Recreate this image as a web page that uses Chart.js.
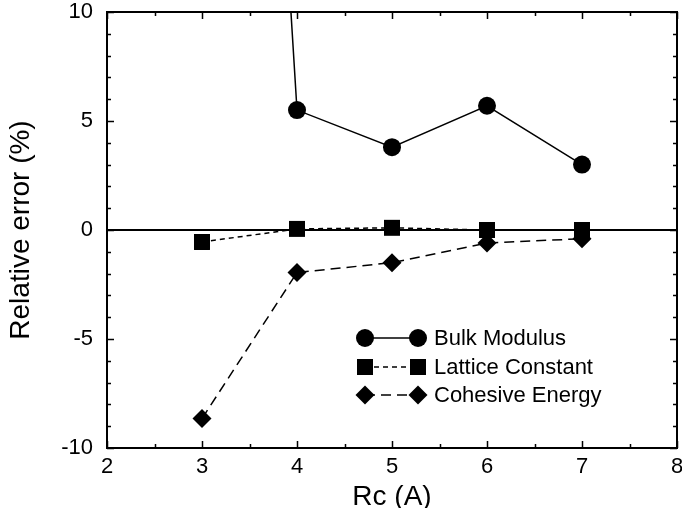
<!DOCTYPE html>
<html>
<head>
<meta charset="utf-8">
<script src="https://cdn.jsdelivr.net/npm/chart.js@4/dist/chart.umd.min.js"></script>
<style>
  html, body { margin: 0; padding: 0; background: #fff; }
  #wrap { width: 682px; height: 508px; }
</style>
</head>
<body>
<div id="wrap"><canvas id="myChart" width="682" height="508"></canvas></div>
<script>
const rc = [3, 4, 5, 6, 7];
const bulkModulus = [76, 5.5, 3.8, 5.7, 3.0];
const latticeConstant = [-0.55, 0.05, 0.1, 0.0, 0.0];
const cohesiveEnergy = [-8.65, -1.95, -1.5, -0.6, -0.4];
const seriesNames = ['Bulk Modulus', 'Lattice Constant', 'Cohesive Energy'];

const FONT = '"Liberation Sans", Arial, sans-serif';

const toXY = (ys) => rc.map((x, i) => ({ x, y: ys[i] }));

// the last x label ("8") is allowed to run off the canvas edge, like the original
const noLabelPadding = (scale) => {
    scale._calculatePadding = function () {
        this.paddingLeft = 0;
        this.paddingRight = 0;
        this.paddingTop = 0;
        this.paddingBottom = 0;
    };
};

// inward ticks on all four sides, plot frame, zero line
const frame = {
    id: 'frame',
    beforeDatasetsDraw(chart) {
        const { ctx, chartArea: a, scales: { y } } = chart;
        ctx.save();
        ctx.strokeStyle = '#000';
        ctx.lineWidth = 2;
        ctx.beginPath();
        ctx.moveTo(a.left, y.getPixelForValue(0));
        ctx.lineTo(a.right, y.getPixelForValue(0));
        ctx.stroke();
        ctx.restore();
    },
    afterDatasetsDraw(chart) {
        const { ctx, chartArea: a, scales: { x, y } } = chart;
        ctx.save();
        ctx.strokeStyle = '#000';
        ctx.lineWidth = 2;
        ctx.strokeRect(a.left, a.top, a.right - a.left, a.bottom - a.top);
        ctx.lineWidth = 1.5;
        ctx.beginPath();
        for (let v = 2; v <= 8.001; v += 0.5) {
            const px = Math.round(x.getPixelForValue(v)) + 0.5;
            const len = Number.isInteger(v) ? 7 : 4;
            ctx.moveTo(px, a.bottom); ctx.lineTo(px, a.bottom - len);
            ctx.moveTo(px, a.top); ctx.lineTo(px, a.top + len);
        }
        for (let v = -10; v <= 10; v += 1) {
            const py = Math.round(y.getPixelForValue(v)) + 0.5;
            const len = v % 5 === 0 ? 7 : 4;
            ctx.moveTo(a.left, py); ctx.lineTo(a.left + len, py);
            ctx.moveTo(a.right, py); ctx.lineTo(a.right - len, py);
        }
        ctx.stroke();
        ctx.restore();
    }
};

const drawMarker = (ctx, style, cx, cy, r) => {
    ctx.beginPath();
    if (style === 'circle') {
        ctx.arc(cx, cy, r, 0, Math.PI * 2);
    } else if (style === 'rect') {
        const s = r * Math.SQRT1_2;
        ctx.rect(cx - s, cy - s, 2 * s, 2 * s);
    } else {
        ctx.moveTo(cx, cy - r); ctx.lineTo(cx + r, cy);
        ctx.lineTo(cx, cy + r); ctx.lineTo(cx - r, cy);
        ctx.closePath();
    }
    ctx.fill();
};

// legend with a marker on both ends of the line sample
const sampleLegend = {
    id: 'sampleLegend',
    afterDraw(chart) {
        const { ctx } = chart;
        const rows = [338, 367, 395];
        ctx.save();
        chart.data.datasets.forEach((ds, i) => {
            const yy = rows[i];
            ctx.strokeStyle = '#000';
            ctx.fillStyle = '#000';
            ctx.lineWidth = ds.borderWidth;
            ctx.setLineDash(ds.borderDash || []);
            ctx.beginPath();
            ctx.moveTo(365, yy); ctx.lineTo(418, yy);
            ctx.stroke();
            ctx.setLineDash([]);
            drawMarker(ctx, ds.pointStyle, 365, yy, ds.pointRadius);
            drawMarker(ctx, ds.pointStyle, 418, yy, ds.pointRadius);
            ctx.font = '22px ' + FONT;
            ctx.textBaseline = 'middle';
            ctx.textAlign = 'left';
            ctx.fillText(ds.label, 434, yy + 1);
        });
        ctx.restore();
    }
};

const initChart = () => {
    const common = {
        borderColor: '#000',
        backgroundColor: '#000',
        pointBackgroundColor: '#000',
        pointBorderColor: '#000',
        pointBorderWidth: 0,
        borderWidth: 1.5,
        tension: 0
    };
    const data = {
        datasets: [
            { ...common, label: seriesNames[0], data: toXY(bulkModulus), pointStyle: 'circle', pointRadius: 9 },
            { ...common, label: seriesNames[1], data: toXY(latticeConstant), pointStyle: 'rect', pointRadius: 11.3, borderDash: [5, 4] },
            { ...common, label: seriesNames[2], data: toXY(cohesiveEnergy), pointStyle: 'rectRot', pointRadius: 9.5, borderDash: [10, 6] }
        ]
    };
    const tickFont = { family: FONT, size: 22 };
    const titleFont = { family: FONT, size: 28, lineHeight: 0.8 };

    new Chart(document.getElementById('myChart'), {
        type: 'line',
        data,
        plugins: [frame, sampleLegend],
        options: {
            responsive: false,
            animation: false,
            events: [],
            layout: { autoPadding: false, padding: { top: 12, right: 5, left: 0, bottom: 0 } },
            plugins: { legend: { display: false }, tooltip: { enabled: false } },
            scales: {
                x: {
                    type: 'linear',
                    min: 2, max: 8,
                    beforeUpdate: noLabelPadding,
                    afterFit(scale) { scale.height = 60; },
                    ticks: { stepSize: 1, color: '#000', font: tickFont, padding: 6, maxRotation: 0 },
                    grid: { display: false, drawTicks: false },
                    border: { display: false },
                    title: { display: true, text: 'Rc (A)', color: '#000', font: titleFont, padding: { top: 0, bottom: 0 } }
                },
                y: {
                    min: -10, max: 10,
                    beforeUpdate: noLabelPadding,
                    afterFit(scale) { scale.width = 107; },
                    ticks: { stepSize: 5, color: '#000', font: tickFont, padding: 14 },
                    grid: { display: false, drawTicks: false },
                    border: { display: false },
                    title: { display: true, text: 'Relative error (%)', color: '#000', font: titleFont, padding: { top: 10, bottom: 0 } }
                }
            }
        }
    });
};
initChart();
</script>
</body>
</html>
